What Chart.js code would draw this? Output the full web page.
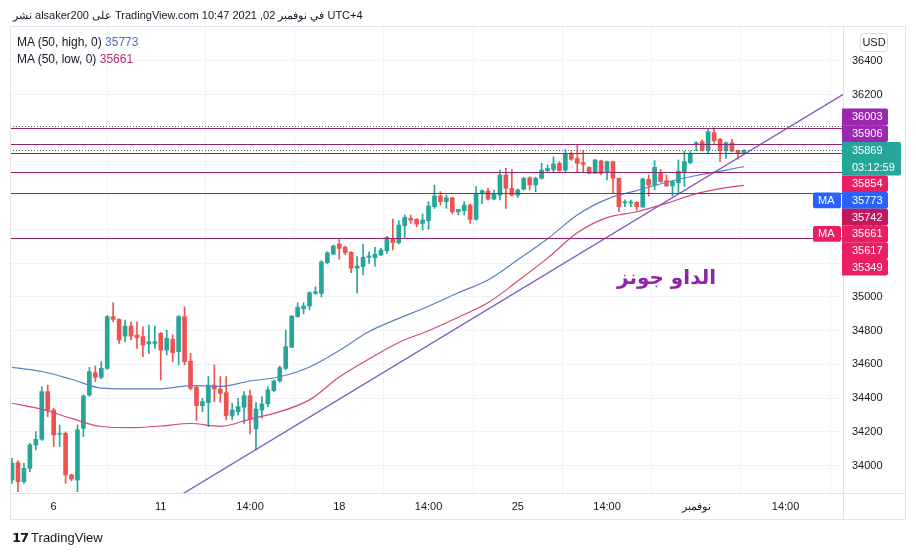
<!DOCTYPE html>
<html>
<head>
<meta charset="utf-8">
<script src="https://cdn.jsdelivr.net/npm/chart.js@4.4.0/dist/chart.umd.min.js"></script>
<style>
  body { margin: 0; background: #fff; overflow: hidden; font-family: "Liberation Sans", Arial, sans-serif; color: #131722; }
  #wrap { position: relative; width: 916px; height: 556px; }
  #c { position: absolute; left: 0; top: 0; }
  .txt { position: absolute; white-space: nowrap; }
  #head { left: 13px; top: 9px; font-size: 11px; direction: ltr; }
  .leg { left: 17px; font-size: 12px; }
  #usd { left: 860px; top: 33px; width: 26px; height: 17px; border: 1px solid #d9dce3; border-radius: 4px;
         font-size: 11px; line-height: 17px; text-align: center; background: #fff; }
  #title { left: 617px; top: 265px; font: bold 20px "DejaVu Sans", sans-serif; color: #8e24aa; direction: rtl; }
  #foot { left: 12px; top: 530px; font-size: 13px; }
  #foot b { font-family: "DejaVu Sans", sans-serif; font-weight: 900; letter-spacing: -1px; margin-right: 3px; }
</style>
</head>
<body>
<div id="wrap">
  <canvas id="c" width="916" height="556"></canvas>
  <div class="txt" id="head">نشر alsaker200 على TradingView.com في نوفمبر 02, 2021 10:47 UTC+4</div>
  <div class="txt leg" style="top:35px">MA (50, high, 0) <span style="color:#4f72b8">35773</span></div>
  <div class="txt leg" style="top:52px">MA (50, low, 0) <span style="color:#b52c6c">35661</span></div>
  <div class="txt" id="usd">USD</div>
  <div class="txt" id="title">الداو جونز</div>
  <div class="txt" id="foot"><b>17</b>TradingView</div>
</div>
<script>
// 4h candles, left to right
var opens = [33915,34018,33905,33984,34123,34156,34439,34330,34186,34192,
  33945,33915,34221,34419,34551,34524,34577,34883,34867,34768,
  34827,34774,34765,34721,34725,34784,34685,34749,34676,34883,
  34620,34464,34356,34374,34478,34454,34433,34297,34320,34346,
  34415,34218,34330,34366,34445,34502,34577,34701,34883,34930,
  34946,35021,35021,35203,35254,35314,35294,35265,35170,35180,
  35235,35233,35249,35274,35347,35322,35422,35466,35460,35436,
  35452,35535,35598,35565,35588,35505,35511,35545,35460,35614,
  35628,35580,35604,35723,35644,35604,35638,35707,35664,35703,
  35748,35756,35792,35752,35851,35821,35796,35768,35733,35806,
  35737,35802,35703,35558,35557,35561,35533,35697,35663,35736,
  35689,35658,35677,35736,35796,35906,35920,35871,35974,35934,
  35871,35914,35867,35855];
var highs = [34044,34030,34014,34133,34202,34468,34478,34340,34241,34200,
  33950,34241,34420,34583,34591,34616,34890,34966,34870,34863,
  34853,34853,34823,34833,34827,34790,34804,34775,34890,34942,
  34666,34470,34399,34528,34597,34528,34528,34370,34399,34439,
  34448,34374,34409,34468,34508,34590,34804,34890,34966,34966,
  35031,35060,35215,35268,35308,35341,35302,35268,35239,35312,
  35268,35294,35290,35360,35462,35452,35486,35486,35465,35492,
  35565,35663,35624,35604,35592,35512,35565,35550,35654,35634,
  35644,35634,35752,35762,35756,35640,35710,35712,35710,35792,
  35782,35831,35802,35875,35861,35905,35870,35772,35815,35812,
  35806,35806,35706,35575,35575,35565,35705,35723,35808,35756,
  35723,35690,35812,35865,35865,35920,35930,35999,36003,35940,
  35918,35934,35870,35873];
var lows = [33895,33846,33895,33965,34093,34150,34290,34113,34113,33895,
  33910,33846,34172,34410,34498,34515,34570,34853,34725,34735,
  34745,34695,34646,34666,34695,34508,34656,34616,34597,34597,
  34448,34267,34320,34231,34380,34376,34271,34271,34300,34251,
  34188,34093,34281,34350,34439,34495,34567,34700,34880,34900,
  34923,35015,35000,35198,35250,35223,35250,35144,35022,35130,
  35199,35183,35245,35258,35278,35314,35347,35436,35416,35397,
  35401,35525,35545,35525,35492,35486,35486,35436,35455,35555,
  35575,35575,35575,35525,35598,35590,35634,35634,35624,35697,
  35742,35742,35745,35742,35810,35742,35742,35730,35730,35723,
  35693,35614,35505,35535,35535,35515,35530,35598,35634,35680,
  35654,35598,35614,35654,35790,35867,35865,35851,35910,35802,
  35821,35860,35816,35850];
var closes = [34014,33905,33984,34123,34156,34439,34330,34182,34192,33945,
  33921,34212,34413,34557,34524,34577,34883,34867,34745,34827,
  34768,34759,34715,34735,34735,34685,34755,34670,34883,34616,
  34458,34356,34380,34478,34454,34429,34297,34330,34350,34415,
  34275,34336,34366,34449,34502,34581,34705,34887,34938,34946,
  35025,35031,35207,35262,35302,35288,35262,35170,35183,35235,
  35243,35253,35278,35353,35322,35426,35472,35456,35432,35456,
  35539,35598,35565,35588,35505,35519,35545,35460,35614,35630,
  35580,35614,35723,35644,35604,35634,35703,35664,35703,35752,
  35762,35788,35748,35851,35816,35792,35786,35733,35812,35733,
  35802,35703,35535,35564,35563,35535,35699,35663,35768,35683,
  35658,35683,35746,35802,35851,35914,35871,35979,35926,35867,
  35914,35865,35855,35869];

// moving averages
var maIdx  = [0,5,10,15,20,25,30,35,40,45,50,55,60,65,70,75,80,85,90,95,100,105,110,115,120,123];
var maHigh = [34583,34558,34512,34460,34455,34455,34475,34470,34502,34527,34585,34683,34795,34873,34945,35025,35100,35220,35345,35486,35580,35630,35680,35720,35752,35773];
var maLow  = [34370,34335,34280,34232,34225,34235,34250,34233,34276,34320,34390,34525,34632,34730,34800,34880,34965,35095,35230,35380,35470,35505,35555,35612,35648,35661];

// trend line
var trendIdx = [27, 139.7];
var trendVal = [33797, 36201];

// horizontal levels
var solidLevels = [36003, 35906, 35854, 35742, 35617, 35349];
var dottedLevels = [36016, 35869];

// price scale labels
var labelValues = [36003, 35906, 35869, 35854, 35773, 35742, 35661, 35617, 35349];
var labelColors = ['#9c27b0','#9c27b0','#26a69a','#e91e63','#2962ff','#c2185b','#e91e63','#e91e63','#e91e63'];
var countdown = '03:12:59';

var timeIdx = [7, 25, 40, 55, 70, 85, 100, 115, 130];
var timeLabels = ['6', '11', '14:00', '18', '14:00', '25', '14:00', 'نوفمبر', '14:00'];
var priceTicks = [34000,34200,34400,34600,34800,35000,35200,35400,35600,35800,36000,36200,36400];

var UP = '#26a69a', DOWN = '#ef5350';
function candleColor(c) {
    var i = c.dataIndex;
    return closes[i] >= opens[i] ? UP : DOWN;
}

var overlay = {
    id: 'overlay',
    afterDatasetsDraw: function(chart) {
        var ctx = chart.ctx, a = chart.chartArea, y = chart.scales.y;
        ctx.save();
        ctx.beginPath();
        ctx.rect(a.left, a.top, a.right - a.left, a.bottom - a.top);
        ctx.clip();
        ctx.lineWidth = 1;
        ctx.strokeStyle = '#93246b';
        solidLevels.forEach(function(v) {
            var py = Math.round(y.getPixelForValue(v)) + 0.5;
            ctx.beginPath(); ctx.moveTo(a.left, py); ctx.lineTo(a.right, py); ctx.stroke();
        });
        ctx.setLineDash([1, 2]);
        ctx.strokeStyle = '#6e5478';
        dottedLevels.forEach(function(v) {
            var py = Math.round(y.getPixelForValue(v)) + 0.5;
            ctx.beginPath(); ctx.moveTo(a.left, py); ctx.lineTo(a.right, py); ctx.stroke();
        });
        ctx.restore();
    },
    afterDraw: function(chart) {
        var ctx = chart.ctx, a = chart.chartArea, y = chart.scales.y;
        ctx.save();
        // frame
        ctx.strokeStyle = '#e0e3eb';
        ctx.lineWidth = 1;
        ctx.strokeRect(10.5, 26.5, 895, 493);
        ctx.beginPath();
        ctx.moveTo(a.right + 0.5, a.bottom); ctx.lineTo(a.right + 0.5, 520);
        ctx.moveTo(a.right, a.bottom + 0.5); ctx.lineTo(906, a.bottom + 0.5);
        ctx.stroke();

        // stacked price labels, anchored on the last price
        var h = 16.7, n = labelValues.length, anchor = 2, ys = [];
        ys[anchor] = y.getPixelForValue(labelValues[anchor]);
        var top = ys[anchor] - h / 2;
        for (var i = anchor - 1; i >= 0; i--) {
            ys[i] = Math.min(y.getPixelForValue(labelValues[i]), top - h / 2);
            top = ys[i] - h / 2;
        }
        var bottom = ys[anchor] - h / 2 + 2 * h;
        for (var j = anchor + 1; j < n; j++) {
            ys[j] = Math.max(y.getPixelForValue(labelValues[j]), bottom + h / 2);
            bottom = ys[j] + h / 2;
        }
        ctx.font = '11px "Liberation Sans", Arial, sans-serif';
        ctx.textBaseline = 'middle';
        for (var k = 0; k < n; k++) {
            var bx = a.right - 1, bw = k === anchor ? 59 : 46, bh = k === anchor ? 2 * h : h;
            ctx.fillStyle = labelColors[k];
            ctx.beginPath();
            ctx.roundRect(bx, ys[k] - h / 2, bw, bh, [0, 2, 2, 0]);
            ctx.fill();
            ctx.fillStyle = '#fff';
            ctx.fillText(String(labelValues[k]), 852, ys[k] + 0.5);
            if (k === anchor) ctx.fillText(countdown, 852, ys[k] + h + 0.5);
        }
        // MA tags left of the scale
        [[4, '#2962ff'], [6, '#e91e63']].forEach(function(t) {
            ctx.fillStyle = t[1];
            ctx.beginPath();
            ctx.roundRect(813, ys[t[0]] - h / 2 + 0.5, 28, h - 1, 2);
            ctx.fill();
            ctx.fillStyle = '#fff';
            ctx.fillText('MA', 818, ys[t[0]] + 0.5);
        });
        ctx.restore();
    }
};

Chart.defaults.font.family = '"Liberation Sans", Arial, sans-serif';
Chart.defaults.font.size = 11;
Chart.defaults.color = '#131722';

var idx = opens.map(function(v, i) { return i; });

new Chart(document.getElementById('c'), {
    type: 'bar',
    data: {
        datasets: [{
            label: 'wick',
            data: idx.map(function(i) { return {x: i, y: [lows[i], highs[i]]}; }),
            backgroundColor: candleColor,
            barThickness: 1,
            grouped: false,
            order: 5
        }, {
            label: 'body',
            data: idx.map(function(i) { return {x: i, y: [opens[i], closes[i]]}; }),
            backgroundColor: candleColor,
            barThickness: 4,
            minBarLength: 1,
            grouped: false,
            order: 4
        }, {
            type: 'line',
            label: 'MA high',
            data: maIdx.map(function(v, k) { return {x: v, y: maHigh[k]}; }),
            borderColor: '#5b7ec9',
            borderWidth: 1.2,
            pointRadius: 0,
            cubicInterpolationMode: 'monotone',
            order: 3
        }, {
            type: 'line',
            label: 'MA low',
            data: maIdx.map(function(v, k) { return {x: v, y: maLow[k]}; }),
            borderColor: '#d6467a',
            borderWidth: 1.2,
            pointRadius: 0,
            cubicInterpolationMode: 'monotone',
            order: 2
        }, {
            type: 'line',
            label: 'trend',
            data: trendIdx.map(function(v, k) { return {x: v, y: trendVal[k]}; }),
            borderColor: '#7e57c2',
            borderWidth: 1.3,
            pointRadius: 0,
            order: 1
        }]
    },
    options: {
        responsive: false,
        animation: false,
        devicePixelRatio: 1,
        layout: { padding: { left: 10, top: 26, right: 10, bottom: 36 } },
        plugins: { legend: { display: false }, tooltip: { enabled: false } },
        scales: {
            x: {
                type: 'linear',
                min: -0.34,
                max: 139.66,
                offset: false,
                grid: { color: '#f0f3fa', drawTicks: false },
                border: { color: '#e0e3eb' },
                ticks: {
                    padding: 7,
                    autoSkip: false,
                    maxRotation: 0,
                    callback: function(v, i) { return timeLabels[i]; }
                },
                afterBuildTicks: function(s) { s.ticks = timeIdx.map(function(v) { return {value: v}; }); },
                afterFit: function(s) { s.height = 27; }
            },
            y: {
                position: 'right',
                min: 33838,
                max: 36606,
                grid: { color: '#f0f3fa', drawTicks: false },
                border: { color: '#e0e3eb' },
                ticks: {
                    padding: 9,
                    crossAlign: 'near',
                    callback: function(v) { return String(v); }
                },
                afterBuildTicks: function(s) { s.ticks = priceTicks.map(function(v) { return {value: v}; }); },
                afterFit: function(s) { s.width = 63; }
            }
        }
    },
    plugins: [overlay]
});
</script>
</body>
</html>
